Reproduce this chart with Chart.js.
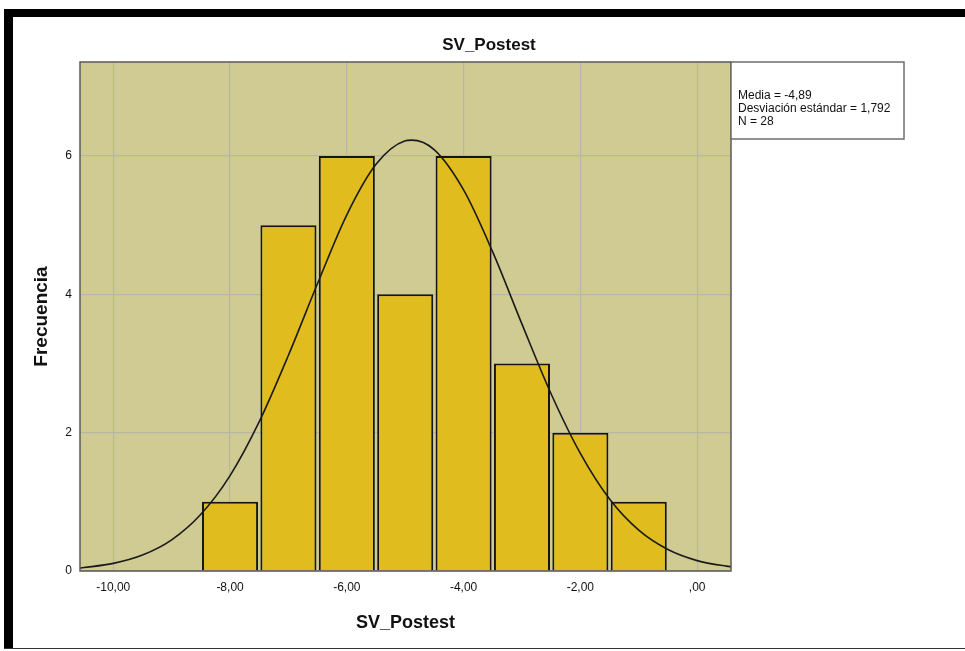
<!DOCTYPE html>
<html>
<head>
<meta charset="utf-8">
<script src="https://cdn.jsdelivr.net/npm/chart.js@4.4.1/dist/chart.umd.min.js"></script>
<style>
  html, body { margin: 0; padding: 0; background: #fff; }
  #wrap { position: relative; width: 965px; height: 651px; overflow: hidden; }
  #wrap canvas { position: absolute; left: 0; top: 0; }
  .bar { position: absolute; background: #000; }
</style>
</head>
<body>
<div id="wrap">
  <canvas id="hist" width="965" height="651"></canvas>
  <div class="bar" style="left:4px;top:9px;width:961px;height:8px"></div>
  <div class="bar" style="left:4px;top:9px;width:9px;height:640px"></div>
  <div class="bar" style="left:4px;top:648px;width:961px;height:1px;background:#333"></div>
</div>
<script>
// histogram bins (centre of each 1-unit bin) and counts
const binCenters = [-8, -7, -6, -5, -4, -3, -2, -1];
const counts = [1, 5, 6, 4, 6, 3, 2, 1];

// fitted normal curve
const curveX = [-10.6, -10.5, -10, -9.5, -9, -8.5, -8, -7.5, -7, -6.5, -6, -5.5, -5, -4.89,
                -4.5, -4, -3.5, -3, -2.5, -2, -1.5, -1, -0.5, 0, 0.5, 0.6];
const curveY = [0.04, 0.05, 0.11, 0.23, 0.45, 0.82, 1.38, 2.16, 3.12, 4.16, 5.15, 5.88, 6.22, 6.23,
                6.09, 5.51, 4.61, 3.57, 2.56, 1.70, 1.04, 0.59, 0.31, 0.15, 0.07, 0.06];

const xTicks = [-10, -8, -6, -4, -2, 0];
const yTicks = [0, 2, 4, 6];

const chartTitle = 'SV_Postest';
const xTitle = 'SV_Postest';
const yTitle = 'Frecuencia';
const statsLines = ['Media = -4,89', 'Desviación estándar = 1,792', 'N = 28'];

const FONT = '"Liberation Sans", Arial, sans-serif';

function fmt(v) {
  if (v === 0) return ',00';
  return v.toFixed(2).replace('.', ',');
}

// draws plot background, frame, titles and the stats box
const spssDecor = {
  id: 'spssDecor',
  beforeDraw(chart) {
    const { ctx, chartArea: a } = chart;
    ctx.save();
    ctx.fillStyle = '#D0CB92';
    ctx.fillRect(a.left, a.top, a.right - a.left, a.bottom - a.top);
    ctx.restore();
  },
  afterDraw(chart) {
    const { ctx, chartArea: a } = chart;
    ctx.save();
    // frame
    ctx.strokeStyle = '#5a5a5a';
    ctx.lineWidth = 1.5;
    ctx.strokeRect(a.left, a.top, a.right - a.left, a.bottom - a.top);

    // titles
    ctx.fillStyle = '#111';
    ctx.textAlign = 'center';
    ctx.textBaseline = 'middle';
    ctx.font = 'bold 17px ' + FONT;
    ctx.fillText(chartTitle, 489, 45);
    ctx.font = 'bold 18px ' + FONT;
    ctx.fillText(xTitle, (a.left + a.right) / 2, 623);
    ctx.save();
    ctx.translate(42, (a.top + a.bottom) / 2);
    ctx.rotate(-Math.PI / 2);
    ctx.font = 'bold 19px ' + FONT;
    ctx.fillText(yTitle, 0, 0);
    ctx.restore();

    // stats box
    const bx = a.right, by = a.top, bw = 173, bh = 77;
    ctx.fillStyle = '#fff';
    ctx.fillRect(bx, by, bw, bh);
    ctx.strokeStyle = '#6e6e6e';
    ctx.lineWidth = 1.5;
    ctx.strokeRect(bx, by, bw, bh);
    ctx.fillStyle = '#111';
    ctx.textAlign = 'left';
    ctx.font = '12px ' + FONT;
    statsLines.forEach((t, i) => ctx.fillText(t, bx + 7, by + 34 + i * 13));
    ctx.restore();
  }
};

new Chart(document.getElementById('hist'), {
  type: 'bar',
  data: {
    datasets: [
      {
        type: 'line',
        data: curveX.map((x, i) => ({ x, y: curveY[i] })),
        borderColor: '#1a1a1a',
        borderWidth: 1.6,
        pointRadius: 0,
        cubicInterpolationMode: 'monotone',
        fill: false,
        order: 0
      },
      {
        type: 'bar',
        data: binCenters.map((x, i) => ({ x, y: counts[i] })),
        backgroundColor: '#E0BC1F',
        borderColor: '#151515',
        borderWidth: 2,
        barPercentage: 0.96,
        categoryPercentage: 1,
        order: 1
      }
    ]
  },
  options: {
    responsive: false,
    animation: false,
    layout: { padding: { left: 13, right: 234, top: 62, bottom: 0 } },
    plugins: { legend: { display: false }, tooltip: { enabled: false } },
    scales: {
      x: {
        type: 'linear',
        min: -10.57,
        max: 0.58,
        offset: false,
        afterFit(s) { s.height = 80; },
        afterBuildTicks(s) { s.ticks = xTicks.map(v => ({ value: v })); },
        grid: { color: '#b8b6a6', lineWidth: 1.2, drawTicks: false, offset: false },
        border: { display: false },
        ticks: {
          padding: 9,
          color: '#111',
          font: { family: FONT, size: 12 },
          maxRotation: 0,
          callback: v => fmt(v)
        }
      },
      y: {
        min: 0,
        max: 7.36,
        afterFit(s) { s.width = 67; },
        afterBuildTicks(s) { s.ticks = yTicks.map(v => ({ value: v })); },
        grid: { color: '#b8b6a6', lineWidth: 1.2, drawTicks: false },
        border: { display: false },
        ticks: {
          padding: 8,
          color: '#111',
          font: { family: FONT, size: 12 },
          callback: v => String(v)
        }
      }
    }
  },
  plugins: [spssDecor]
});
</script>
</body>
</html>
